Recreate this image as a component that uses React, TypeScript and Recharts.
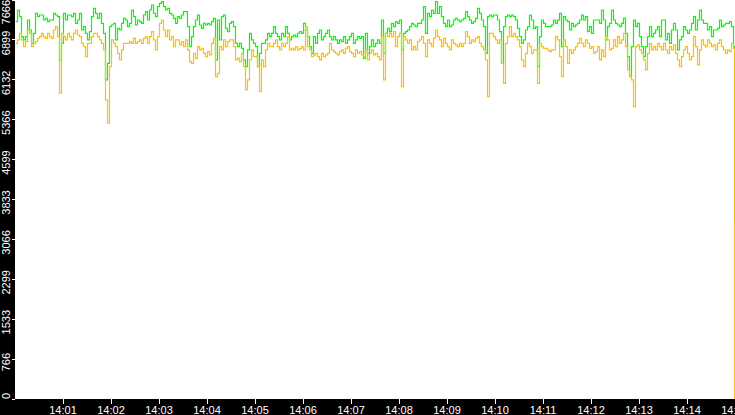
import React from 'react';
import { LineChart, Line, XAxis, YAxis, CartesianGrid } from 'recharts';

// Sample interval of the readings (seconds after 14:00:00)
const SAMPLE_STEP_S = 2.5;
const FINAL_SAMPLE_T = 899;

const greenValues = [
  7250, 7474, 7346, 6962, 6898, 6962, 7282, 7090, 6834, 7026,
  7410, 7346, 7378, 7378, 7282, 7314, 7250, 7282, 7282, 7410,
  7378, 7346, 6514, 6834, 7410, 7282, 7378, 7378, 7346, 7410,
  7218, 7282, 7410, 7090, 7154, 7026, 6898, 7058, 7346, 7506,
  7410, 7314, 7410, 7218, 7026, 6130, 6450, 7154, 7186, 7218,
  6898, 7122, 7090, 7218, 7314, 7282, 7154, 7218, 7474, 7346,
  7186, 7282, 7250, 7218, 7378, 7442, 7282, 7474, 7570, 7410,
  7346, 7538, 7602, 7634, 7538, 7474, 7506, 7410, 7378, 7314,
  7218, 7346, 7314, 7378, 7442, 7442, 7154, 6770, 6962, 7154,
  7282, 7378, 7186, 7122, 7218, 7186, 7218, 7186, 7250, 7314,
  6514, 7282, 6898, 7346, 7378, 7122, 7058, 7218, 7250, 7154,
  6834, 6770, 6834, 6738, 6514, 6386, 6706, 7026, 6898, 6834,
  6770, 6386, 6642, 6834, 6834, 6898, 7026, 6962, 7026, 7154,
  7026, 6962, 6898, 7026, 6962, 7154, 7026, 6898, 6962, 6994,
  6962, 7026, 7058, 7026, 7218, 7090, 6962, 6770, 6642, 6962,
  6834, 7026, 7090, 6898, 6962, 7026, 7090, 6962, 6898, 6962,
  6898, 6834, 6898, 6866, 6962, 6834, 6898, 6962, 7026, 6834,
  6898, 6962, 6930, 6962, 6546, 7026, 6642, 6770, 6898, 6770,
  6834, 6898, 6834, 7282, 6642, 7026, 7122, 7058, 7218, 7154,
  7250, 7218, 7282, 6706, 7026, 7058, 7090, 7154, 7218, 7186,
  7154, 7218, 7218, 7282, 7538, 7026, 7410, 7346, 7474, 7410,
  7634, 7410, 7538, 7346, 7218, 7154, 7282, 7154, 7186, 7282,
  7314, 7282, 7250, 7282, 7314, 7442, 7346, 7282, 7218, 7250,
  7314, 7506, 7410, 7282, 7154, 6642, 7346, 7378, 7346, 7378,
  7378, 7282, 7058, 6450, 7154, 7346, 7378, 7346, 7378, 7346,
  7282, 7122, 6962, 6834, 6898, 7090, 7154, 7378, 7282, 7122,
  7154, 6386, 6962, 7282, 7218, 7154, 7154, 7154, 7186, 7282,
  7218, 7282, 7410, 6770, 7346, 7282, 7250, 7090, 7218, 7154,
  7186, 7218, 7282, 7378, 7282, 7346, 7058, 7154, 7026, 7282,
  7282, 7282, 7218, 7474, 7282, 6898, 7154, 7218, 7474, 7282,
  7218, 7186, 7154, 7218, 7314, 7026, 6578, 6194, 6770, 7282,
  7154, 7218, 6962, 6770, 6578, 6770, 6962, 7154, 6962, 7026,
  7090, 7154, 6962, 7282, 7282, 6898, 7026, 6834, 7090, 7218,
  7090, 6706, 6898, 6962, 7154, 7090, 7026, 7090, 7218, 7346,
  7090, 7282, 7474, 7282, 7218, 7218, 7090, 7154, 6962, 7090,
  7090, 7122, 7282, 7154, 7186, 7218, 7218, 7250, 7154, 6770,
  3400,
];

const orangeValues = [
  6834, 6898, 7026, 6898, 6770, 6866, 7090, 7026, 6770, 6834,
  6866, 6930, 6962, 7026, 6962, 6930, 7026, 6962, 6930, 7090,
  7154, 6962, 5874, 7026, 6962, 6898, 7026, 6962, 6898, 7026,
  7090, 6994, 6962, 6834, 6770, 6578, 6834, 6834, 6962, 7026,
  7026, 6962, 6898, 6834, 6706, 5746, 5298, 6386, 6898, 6834,
  6770, 6642, 6514, 6706, 6834, 6834, 6834, 6866, 6834, 6930,
  6834, 6866, 6898, 6834, 6930, 6962, 6834, 6962, 7058, 6898,
  6706, 6962, 7218, 7282, 7090, 6962, 7090, 6898, 6962, 6770,
  6898, 6898, 6802, 6866, 6770, 6898, 6706, 6482, 6450, 6642,
  6546, 6770, 6706, 6738, 6642, 6578, 6674, 6610, 6834, 6930,
  6194, 6258, 6770, 6706, 6898, 6770, 6866, 6898, 6898, 6770,
  6514, 6546, 6482, 6642, 6386, 5938, 6130, 6514, 6706, 6578,
  6578, 6386, 5906, 6514, 6386, 6706, 6834, 6770, 6770, 6834,
  6898, 6770, 6706, 6834, 6770, 6834, 6962, 6706, 6738, 6706,
  6770, 6706, 6738, 6770, 6706, 7154, 6770, 6706, 6578, 6610,
  6642, 6578, 6514, 6642, 6578, 6610, 6642, 6834, 6706, 6674,
  6642, 6610, 6674, 6706, 6642, 6738, 6770, 6674, 6642, 6578,
  6706, 6642, 6674, 6610, 6578, 6706, 6514, 6642, 6706, 6610,
  6642, 6578, 6514, 6962, 6130, 7026, 6962, 7026, 6962, 7058,
  6770, 6962, 7026, 6002, 6962, 6898, 6834, 6898, 6706, 6770,
  6706, 6866, 6898, 6962, 6834, 6578, 6898, 6834, 6770, 6930,
  7090, 6962, 6898, 6770, 6930, 6834, 6770, 6706, 6898, 6834,
  6802, 6770, 6834, 6770, 6834, 7058, 6962, 6834, 6898, 6866,
  6930, 6962, 6834, 6770, 6706, 6514, 5810, 7026, 7026, 6962,
  6898, 6834, 6898, 6450, 6066, 6834, 6962, 7154, 6962, 7026,
  6962, 6898, 6770, 6514, 6386, 6642, 6834, 6770, 6642, 6706,
  6706, 6066, 6834, 6770, 6738, 6738, 6706, 6674, 6706, 6706,
  6962, 6898, 6578, 6194, 6898, 6770, 6450, 6706, 6642, 6706,
  6770, 6834, 6930, 6834, 6770, 6898, 6834, 6738, 6770, 6642,
  6674, 6770, 6514, 6706, 6578, 6962, 6898, 6706, 6738, 6898,
  6770, 6962, 6834, 6898, 7026, 6770, 6322, 6194, 6130, 5618,
  6770, 6802, 6706, 6642, 6514, 6322, 6642, 6834, 6706, 6770,
  6706, 6834, 6770, 6706, 6834, 6706, 6642, 6770, 6706, 6802,
  6642, 6514, 6386, 6578, 6706, 6770, 6642, 6514, 6578, 6962,
  6770, 6418, 6706, 6898, 6802, 6770, 6898, 6834, 6770, 6802,
  6706, 6834, 6898, 6770, 6706, 6642, 6706, 6674, 6834, 6738,
  0,
];

const yTicks = [0, 766.6, 1533.2, 2299.8, 3066.4, 3833, 4599.6, 5366.2, 6132.8, 6899.4, 7666];
const xTicks = [60, 120, 180, 240, 300, 360, 420, 480, 540, 600, 660, 720, 780, 840, 900];
const xTickLabels = ['14:01', '14:02', '14:03', '14:04', '14:05', '14:06', '14:07', '14:08', '14:09', '14:10', '14:11', '14:12', '14:13', '14:14', '14:15'];

const data = greenValues.map((g, i) => ({
  t: i === greenValues.length - 1 ? FINAL_SAMPLE_T : i * SAMPLE_STEP_S,
  green: g,
  orange: orangeValues[i],
}));

const W = 735;
const H = 415;
const Y_AXIS_W = 15;
const X_AXIS_H = 16;
const PLOT_BOTTOM = H - X_AXIS_H;
const FONT = '"Liberation Sans", Arial, sans-serif';

const YTick = (props: any) => {
  const { y, payload } = props;
  const label = String(Math.floor(payload.value));
  const half = (label.length * 6.1) / 2;
  const cy = Math.max(half, Math.min(PLOT_BOTTOM - half, y + 3));
  return (
    <g>
      <line x1={Y_AXIS_W - 3} x2={Y_AXIS_W} y1={y} y2={y} stroke="#fff" />
      <text
        transform={`translate(9.5,${cy}) rotate(-90)`}
        textAnchor="middle"
        fill="#fff"
        fontSize={11}
        fontFamily={FONT}
      >
        {label}
      </text>
    </g>
  );
};

const XTick = (props: any) => {
  const { x, payload } = props;
  const idx = xTicks.indexOf(payload.value);
  return (
    <g>
      <line x1={x} x2={x} y1={PLOT_BOTTOM} y2={PLOT_BOTTOM + 5} stroke="#fff" />
      <text x={x} y={H - 1} textAnchor="middle" fill="#fff" fontSize={11} fontFamily={FONT}>
        {xTickLabels[idx]}
      </text>
    </g>
  );
};

export default function App() {
  return (
    <div style={{ position: 'fixed', left: 0, top: 0, width: W, height: H, background: '#000' }}>
      <style>{`svg line { shape-rendering: crispEdges; } .recharts-line-curve { transform: translateX(0.5px); }`}</style>
      <LineChart width={W} height={H} data={data} margin={{ top: 0, right: 0, bottom: 0, left: 0 }}>
        <CartesianGrid fill="#ffffff" stroke="none" horizontal={false} vertical={false} />
        <XAxis
          dataKey="t"
          type="number"
          domain={[0, 900]}
          ticks={xTicks}
          interval={0}
          height={X_AXIS_H}
          axisLine={false}
          tickLine={false}
          tick={<XTick />}
          allowDataOverflow
        />
        <YAxis
          type="number"
          domain={[0, 7666]}
          ticks={yTicks}
          interval={0}
          width={Y_AXIS_W}
          axisLine={false}
          tickLine={false}
          tick={<YTick />}
          allowDataOverflow
        />
        <Line
          type="stepAfter"
          dataKey="green"
          stroke="#00ff00"
          strokeWidth={1.2}
          dot={false}
          isAnimationActive={false}
        />
        <Line
          type="stepAfter"
          dataKey="orange"
          stroke="#ffc000"
          strokeWidth={1.2}
          dot={false}
          isAnimationActive={false}
        />
      </LineChart>
    </div>
  );
}
